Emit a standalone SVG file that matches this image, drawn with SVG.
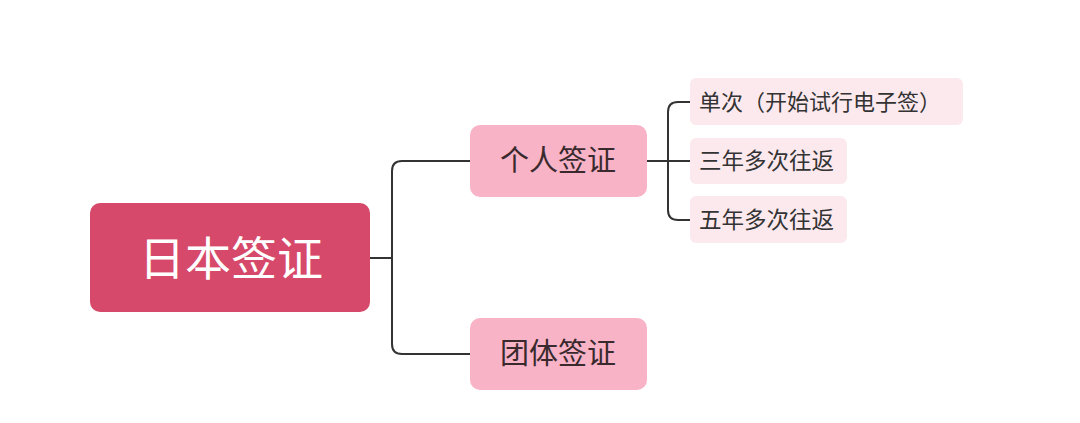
<svg xmlns="http://www.w3.org/2000/svg" width="1080" height="423" viewBox="0 0 1080 423">
<style>
.t{font-family:"Noto Sans CJK SC","Noto Sans",sans-serif;}
.root{fill:#D6496A;}
.l1{fill:#F9B3C7;}
.l2{fill:#FCE9EE;}
.conn{fill:none;stroke:#333;stroke-width:2;}
</style>
<rect width="1080" height="423" fill="#fff"/>
<g id="connectors">
<path class="conn" d="M370 258 H392 M470 161 H402 Q392 161 392 171 V344 Q392 354 402 354 H470"/>
<path class="conn" d="M647 161 H690 M690 102 H678 Q668 102 668 112 V210 Q668 220 678 220 H690"/>
</g>
<g id="root">
<rect class="root" x="90" y="203" width="280" height="109" rx="10"/>
<text class="t" x="231" y="275" font-size="46" fill="#fff" text-anchor="middle">日本签证</text>
</g>
<g id="personal">
<rect class="l1" x="470" y="125" width="177" height="72" rx="10"/>
<text class="t" x="558" y="171" font-size="29" fill="#3a2a2e" text-anchor="middle">个人签证</text>
</g>
<g id="group">
<rect class="l1" x="470" y="318" width="177" height="72" rx="10"/>
<text class="t" x="558" y="364" font-size="29" fill="#3a2a2e" text-anchor="middle">团体签证</text>
</g>
<g id="single">
<rect class="l2" x="690" y="78" width="273" height="47" rx="6"/>
<text class="t" x="699" y="110" font-size="22" fill="#333">单次（开始试行电子签）</text>
</g>
<g id="three">
<rect class="l2" x="690" y="138" width="157" height="46" rx="6"/>
<text class="t" x="699" y="169" font-size="22.5" fill="#333">三年多次往返</text>
</g>
<g id="five">
<rect class="l2" x="690" y="196" width="157" height="47" rx="6"/>
<text class="t" x="699" y="228" font-size="22.5" fill="#333">五年多次往返</text>
</g>
</svg>
